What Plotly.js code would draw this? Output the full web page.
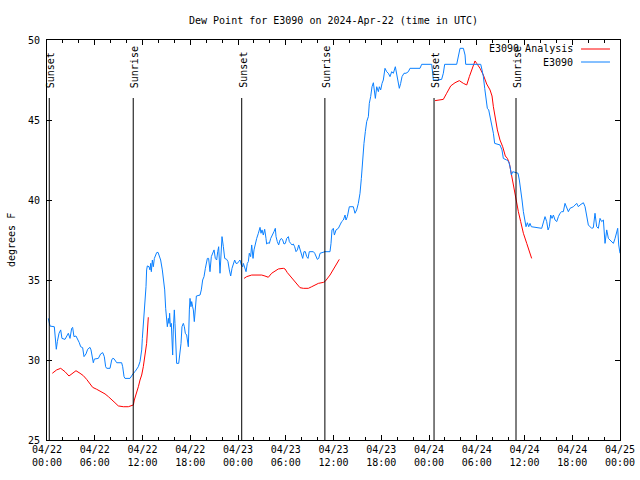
<!DOCTYPE html>
<html>
<head>
<meta charset="utf-8">
<script src="https://cdn.plot.ly/plotly-3.0.1.min.js"></script>
<style>html,body{margin:0;padding:0;background:#fff;}#chart{width:640px;height:480px;}</style>
</head>
<body>
<div id="chart"></div>
<script>
// Hours since 2024-04-22 00:00 UTC
const obsHours = [0.17,0.29,0.38,0.92,1.09,1.17,1.3,1.51,1.72,1.88,2.26,2.47,2.68,2.89,3.1,3.22,3.39,3.64,3.81,4.06,4.23,4.48,4.65,4.9,5.11,5.4,5.53,5.7,5.82,5.95,6.45,6.74,7.0,7.2,7.37,7.5,7.92,8.13,8.25,8.42,8.76,9.38,9.51,9.68,9.8,10.43,10.64,10.85,11.06,11.27,11.47,11.69,11.77,11.9,11.98,12.1,12.19,12.31,12.44,12.52,12.61,
12.82,12.94,13.03,13.11,13.24,13.36,13.49,13.61,13.78,13.95,14.07,14.28,14.49,14.62,14.79,14.91,15.04,15.12,15.25,15.33,15.41,15.5,15.62,15.71,15.79,15.87,16.0,16.08,16.17,16.29,16.55,16.71,16.84,16.96,17.13,17.26,17.38,17.55,17.68,17.76,17.89,17.97,18.09,18.18,18.3,18.39,18.51,18.64,18.77,19.23,19.39,19.56,19.73,19.9,19.98,20.15,20.31,20.4,20.48,20.65,20.82,20.99,21.15,21.32,21.45,21.57,21.74,21.86,21.99,22.16,22.33,22.58,22.74,22.91,23.08,23.25,23.41,23.58,23.75,23.92,
24.08,24.25,24.42,24.59,24.67,24.84,25.01,25.17,25.3,25.42,25.59,25.72,25.89,26.01,26.18,26.35,26.56,26.77,26.89,27.02,27.18,27.35,27.52,27.6,27.77,27.94,28.11,28.36,28.52,28.69,28.78,28.94,29.11,29.28,29.45,29.61,29.78,29.95,30.12,30.33,30.45,30.62,30.79,30.95,31.12,31.29,31.46,31.63,31.79,31.96,32.13,32.29,32.46,32.63,32.8,32.96,33.13,33.47,33.64,33.8,33.97,34.14,34.31,34.93,35.56,35.69,35.81,35.98,36.11,36.32,36.61,36.82,37.03,37.24,37.45,37.57,37.74,37.99,38.49,38.7,38.91,39.12,39.33,39.5,39.67,39.83,40.0,40.17,40.38,40.5,40.67,40.84,41.01,41.13,41.26,41.43,41.64,41.76,41.93,42.1,42.26,42.47,42.68,42.89,43.1,43.31,43.52,43.77,43.94,44.11,44.27,44.44,44.61,44.86,45.11,45.41,45.61,46.87,47.08,
48.34,48.46,48.55,49.05,49.59,49.8,49.97,51.48,51.69,51.9,52.32,52.53,52.61,54.5,54.66,54.83,55.0,55.16,55.33,55.5,55.67,55.84,56.0,56.09,56.25,56.92,57.17,57.34,57.76,58.01,58.18,58.35,58.52,59.02,59.19,59.35,59.52,59.69,59.86,60.02,60.19,60.36,60.53,60.69,60.86,62.16,62.37,62.58,62.79,62.96,63.12,63.29,63.46,63.63,63.84,64.05,64.26,64.46,64.67,64.88,65.09,65.3,65.51,65.72,66.14,66.56,66.77,66.98,67.4,67.61,67.82,68.02,68.44,68.65,68.86,69.07,69.28,69.49,69.7,69.91,70.12,70.33,70.54,70.75,71.17,71.38,71.58,71.71,71.84,72.0];
const obsDew = [32.6,32.29,32.12,32.08,31.15,30.67,31.15,31.67,31.88,31.35,31.29,31.5,31.67,31.35,31.98,32.04,31.46,31.5,31.35,31.08,30.83,30.77,30.21,30.38,30.67,30.79,30.63,30.1,29.83,30.06,30.1,30.38,30.46,30.21,29.58,29.48,29.48,30.0,30.1,30.08,29.83,29.83,29.58,28.96,28.85,28.85,29.06,29.17,29.27,29.42,29.58,29.9,30.21,30.63,31.35,32.08,32.92,33.75,34.58,35.63,35.88,
35.83,35.63,36.04,35.52,36.25,35.83,36.35,36.46,36.71,36.73,36.56,36.25,35.63,35.0,34.38,33.23,32.19,32.08,32.6,32.29,32.92,32.08,32.29,31.04,30.31,31.88,33.13,32.29,30.83,29.79,29.79,30.42,31.04,32.08,32.29,32.08,31.67,31.56,31.04,30.83,33.13,33.85,33.33,33.65,33.33,33.13,32.4,33.13,34.0,34.06,34.38,35.0,35.21,35.73,36.04,36.35,36.35,36.04,35.52,36.46,36.67,36.88,36.35,36.25,36.77,37.08,35.42,36.67,37.71,37.08,36.35,36.29,36.15,35.63,35.25,35.73,35.94,36.25,36.04,36.04,
36.15,36.25,35.94,35.83,36.04,35.73,35.52,36.04,36.15,36.67,36.46,37.19,36.35,36.88,37.29,37.6,37.92,38.29,37.92,38.13,37.81,38.17,37.6,37.25,37.33,37.29,37.6,37.81,38.02,38.23,37.71,37.4,37.19,37.5,37.6,37.5,37.25,37.29,37.6,37.71,37.4,37.29,37.19,37.25,37.08,36.77,36.88,37.19,36.88,36.67,36.35,36.77,36.77,36.46,36.35,36.77,36.77,36.77,36.67,36.46,36.29,36.35,36.67,36.77,36.77,37.29,38.13,38.23,37.81,38.13,38.23,38.44,38.65,38.75,39.06,38.75,38.96,39.58,39.58,39.17,39.38,39.79,40.42,41.35,42.71,43.54,44.27,44.9,45.21,46.04,46.46,47.08,47.33,46.67,46.35,47.08,46.77,47.08,46.88,47.29,47.5,48.23,48.02,47.92,47.71,48.02,47.92,48.33,47.81,47.29,46.98,47.29,47.71,47.92,47.92,48.02,48.23,48.23,48.48,
48.48,47.92,47.5,47.5,47.54,47.92,48.48,48.48,49.06,49.48,49.48,49.06,48.48,48.48,48.13,47.71,46.98,46.25,45.73,45.63,45.21,44.79,44.48,44.17,43.54,43.44,43.13,42.6,42.5,42.4,42.08,41.56,41.77,41.71,41.67,41.25,40.73,40.0,39.27,38.65,38.33,38.58,38.33,38.54,38.33,38.23,38.54,38.96,38.65,38.13,38.33,39.06,38.85,39.06,38.75,38.65,38.96,39.17,39.27,39.27,39.79,39.58,39.27,39.48,39.58,39.79,39.58,39.69,39.83,39.58,38.96,38.44,38.23,38.27,39.17,38.33,38.23,38.85,38.65,38.75,37.29,38.13,37.6,37.5,37.29,37.6,38.13,38.23,37.19,36.67];

const anaHours = [0.67,1.21,1.72,2.26,2.76,3.31,3.64,4.15,4.57,4.98,5.4,5.74,6.24,6.66,7.29,7.71,8.13,8.54,8.96,9.59,10.22,10.64,10.85,10.97,11.27,11.48,11.69,11.9,12.1,12.31,12.52,12.73,null,
24.76,25.09,25.72,26.98,27.39,27.81,28.23,28.65,29.07,29.7,29.91,30.2,30.54,30.95,31.37,31.79,32.21,32.84,33.26,33.68,34.1,34.72,34.93,35.56,35.98,36.4,36.73,null,
48.76,49.3,49.8,50.22,50.73,51.27,51.81,52.32,52.74,53.07,53.49,53.78,53.99,54.41,54.83,55.25,55.67,55.92,56.09,56.34,56.59,56.92,57.26,57.59,57.85,58.1,58.39,58.68,58.93,59.23,59.52,59.86,60.28,60.61,60.9];
const anaDew = [29.17,29.38,29.48,29.27,29.0,29.21,29.33,29.17,29.02,28.79,28.54,28.29,28.17,28.06,27.88,27.71,27.54,27.33,27.13,27.08,27.08,27.13,27.19,27.5,27.92,28.33,28.75,29.06,29.58,30.21,31.04,32.67,null,
35.1,35.21,35.31,35.31,35.25,35.17,35.42,35.58,35.69,35.73,35.69,35.46,35.25,35.04,34.79,34.52,34.48,34.48,34.58,34.69,34.79,34.85,34.9,35.31,35.67,36.04,36.29,null,
46.21,46.25,46.29,46.67,47.13,47.33,47.46,47.29,47.19,47.71,48.33,48.69,48.54,48.23,47.81,47.25,46.88,46.5,45.83,45.0,44.38,43.75,43.33,42.75,42.6,42.29,41.46,40.63,40.0,39.27,38.65,37.92,37.29,36.77,36.35];

const sunTimes = ["2024-04-22 00:17","2024-04-22 10:50","2024-04-23 00:28","2024-04-23 10:55","2024-04-24 00:38","2024-04-24 10:56"];
const sunLabels = ["Sunset","Sunrise","Sunset","Sunrise","Sunset","Sunrise"];
const seriesNames = ["E3090 Analysis","E3090"];
const seriesColors = ["#ff0000","#0a80ff"];

const T0 = Date.UTC(2024,3,22);
function toDate(h){
  if (h === null) return null;
  return new Date(T0 + Math.round(h*3600)*1000).toISOString().slice(0,19).replace('T',' ');
}

const FONT = "DejaVu Sans Mono, monospace";
const traces = [
  {x: anaHours.map(toDate), y: anaDew, type:'scatter', mode:'lines', name: seriesNames[0],
   line:{color:seriesColors[0], width:1}, connectgaps:false},
  {x: obsHours.map(toDate), y: obsDew, type:'scatter', mode:'lines', name: seriesNames[1],
   line:{color:seriesColors[1], width:1}}
];

const shapes = [];
const annotations = [];
sunTimes.forEach((t,i)=>{
  shapes.push({type:'line', xref:'x', yref:'y', x0:t, x1:t, y0:25, y1:46.375, line:{color:'#000', width:1}});
  annotations.push({xref:'x', yref:'y', x:t, y:46.875, text:sunLabels[i], textangle:-90, showarrow:false,
    xanchor:'center', yanchor:'bottom', xshift:1, font:{family:FONT, size:10, color:'#000'}});
});
// legend (text left, sample right)
const legY = [0.9775, 0.945];
seriesNames.forEach((n,i)=>{
  annotations.push({xref:'paper', yref:'paper', x:0.9215, y:legY[i], text:n, showarrow:false,
    xanchor:'right', yanchor:'middle', font:{family:FONT, size:10, color:'#000'}, bgcolor:'rgba(0,0,0,0)'});
  shapes.push({type:'line', xref:'paper', yref:'paper', x0:0.932, x1:0.9825, y0:legY[i], y1:legY[i], line:{color:seriesColors[i], width:1}});
});
annotations.push({xref:'paper', yref:'paper', x:-0.0628, y:0.5, text:'degrees F', textangle:-90, showarrow:false,
  xanchor:'center', yanchor:'middle', font:{family:FONT, size:10, color:'#000'}});

const layout = {
  width:640, height:480,
  margin:{l:47, r:20, t:40, b:40, pad:0},
  paper_bgcolor:'#fff', plot_bgcolor:'#fff',
  font:{family:FONT, size:10, color:'#000'},
  showlegend:false,
  title:{text:'Dew Point for E3090 on 2024-Apr-22 (time in UTC)', font:{family:FONT, size:10, color:'#000'},
    x:0.5, xref:'paper', xanchor:'center', y:1-20/480, yref:'container', yanchor:'middle'},
  xaxis:{type:'date', range:['2024-04-22 00:00','2024-04-25 00:00'], tick0:'2024-04-22 00:00', dtick:6*3600000,
    tickformat:'%m/%d<br>%H:%M', ticks:'inside', ticklen:5, tickcolor:'#000', tickwidth:1,
    minor:{dtick:2*3600000, ticks:'inside', ticklen:3, tickcolor:'#000', tickwidth:1, showgrid:false},
    showline:true, linecolor:'#000', linewidth:1, mirror:'ticks', showgrid:false, zeroline:false,
    tickfont:{family:FONT, size:10, color:'#000'}},
  yaxis:{range:[25,50], dtick:5, tick0:25, ticks:'inside', ticklen:5, tickcolor:'#000', tickwidth:1,
    showline:true, linecolor:'#000', linewidth:1, mirror:'ticks', showgrid:false, zeroline:false,
    ticklabelstandoff:4, tickfont:{family:FONT, size:10, color:'#000'}},
  shapes:shapes, annotations:annotations
};
Plotly.newPlot('chart', traces, layout, {staticPlot:true, displayModeBar:false});
</script>
</body>
</html>
